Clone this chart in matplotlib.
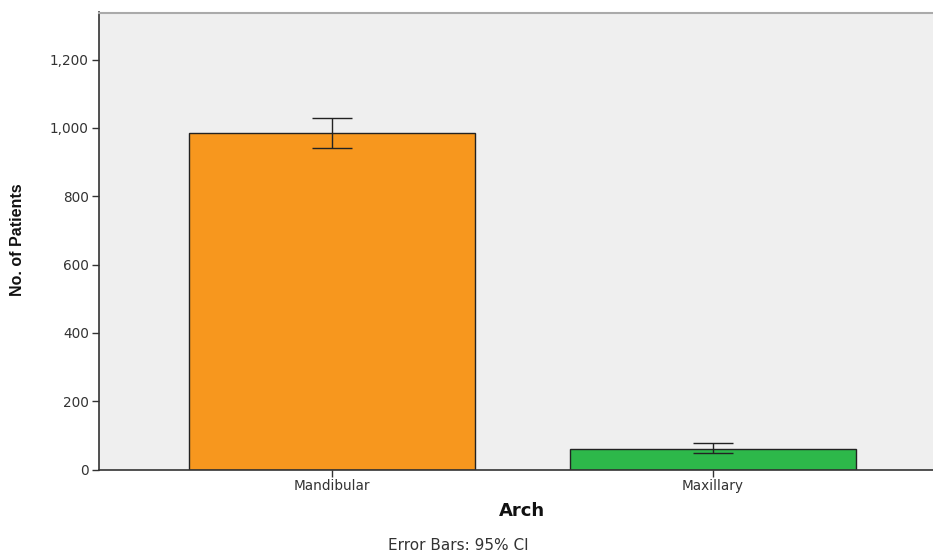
import matplotlib
matplotlib.use("Agg")
import matplotlib.pyplot as plt
import numpy as np

categories = ["Mandibular", "Maxillary"]
patients = [985, 60]
ci_low = [941, 47]
ci_high = [1029, 77]
bar_colors = ["#F7971E", "#2DB84A"]
y_ticks = [0, 200, 400, 600, 800, 1000, 1200]

W, H = 933, 553
fig = plt.figure(figsize=(W / 100, H / 100), dpi=100)
fig.patch.set_facecolor("white")

left, right, top, bottom = 98.5, 946, 12.5, 469.5
ax = fig.add_axes([left / W, 1 - bottom / H, (right - left) / W, (bottom - top) / H])
ax.set_facecolor("#EFEFEF")

x = np.arange(len(categories))
ax.bar(x, patients, width=0.75, color=bar_colors, edgecolor="#222222", linewidth=1.0, zorder=2)
yerr = np.array([np.array(patients) - np.array(ci_low), np.array(ci_high) - np.array(patients)])
ax.errorbar(x, patients, yerr=yerr, fmt="none", ecolor="#222222", elinewidth=1.0,
            capsize=14.5, capthick=1.0, zorder=3)

ax.set_xlim(-0.612, 1.612)
ax.set_ylim(0, 1338)
ax.set_xticks(x)
ax.set_xticklabels(categories)
ax.set_yticks(y_ticks)
ax.set_yticklabels([f"{v:,}" for v in y_ticks])
ax.tick_params(axis="both", direction="out", length=5, width=1, color="#333333",
               labelsize=9.8, labelcolor="#333333", pad=2)

for s in ["left", "bottom"]:
    ax.spines[s].set_color("#333333")
    ax.spines[s].set_linewidth(1.2)
ax.spines["top"].set_color("#AAAAAA")
ax.spines["top"].set_linewidth(1.5)
ax.spines["right"].set_visible(False)

fig.text(18 / W, 1 - 240 / H, "No. of Patients", rotation=90, ha="center", va="center",
         fontsize=11.5, fontweight="bold", color="#111111",
         family=["Liberation Sans Narrow", "Liberation Sans", "DejaVu Sans"])
fig.text(522 / W, 1 - 511.5 / H, "Arch", ha="center", va="center",
         fontsize=13, fontweight="bold", color="#111111")
fig.text(458.5 / W, 1 - 546 / H, "Error Bars: 95% CI", ha="center", va="center",
         fontsize=11, color="#333333")

fig.savefig("out.png", dpi=100)
